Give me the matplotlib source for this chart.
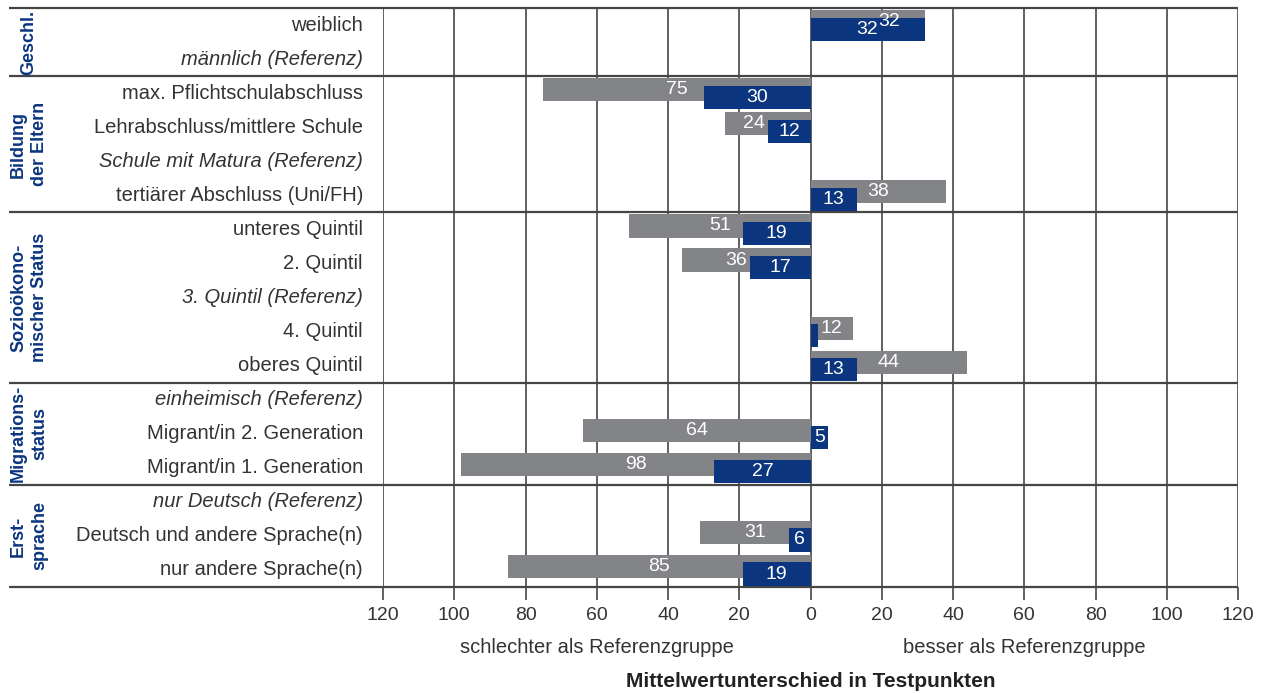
import matplotlib
matplotlib.use("Agg")
import matplotlib.pyplot as plt

plt.rcParams['font.family'] = ['Liberation Sans', 'DejaVu Sans']

# rows from top to bottom
rows = ["weiblich", "männlich (Referenz)",
        "max. Pflichtschulabschluss", "Lehrabschluss/mittlere Schule",
        "Schule mit Matura (Referenz)", "tertiärer Abschluss (Uni/FH)",
        "unteres Quintil", "2. Quintil", "3. Quintil (Referenz)", "4. Quintil",
        "oberes Quintil",
        "einheimisch (Referenz)", "Migrant/in 2. Generation",
        "Migrant/in 1. Generation",
        "nur Deutsch (Referenz)", "Deutsch und andere Sprache(n)",
        "nur andere Sprache(n)"]
reference = [False, True, False, False, True, False, False, False, True, False,
             False, True, False, False, True, False, False]
grey_vals = [32, None, -75, -24, None, 38, -51, -36, None, 12, 44,
             None, -64, -98, None, -31, -85]
blue_vals = [32, None, -30, -12, None, 13, -19, -17, None, 2, 13,
             None, 5, -27, None, -6, -19]

groups = ["Geschl.", "Bildung\nder Eltern", "Sozioökono-\nmischer Status",
          "Migrations-\nstatus", "Erst-\nsprache"]
group_sizes = [2, 4, 5, 3, 3]

xticks = list(range(-120, 121, 20))

GREY = "#838488"
BLUE = "#0b357e"
LINE = "#454545"
TEXT = "#333333"

fig = plt.figure(figsize=(12.7, 6.93), dpi=100)
ax = fig.add_axes([383 / 1270, 1 - 587 / 693, (1238 - 383) / 1270, (587 - 8) / 693])
ax.set_xlim(-120, 120)
ax.set_ylim(len(rows) - 0.5, -0.5)
for s in ax.spines.values():
    s.set_visible(False)

# vertical grid
for t in xticks:
    ax.axvline(t, color=LINE, lw=1.2, zorder=1)

# horizontal group separators, extending into label area
ytr = ax.get_yaxis_transform()
bounds = [-0.5]
for n in group_sizes:
    bounds.append(bounds[-1] + n)
for b in bounds:
    ax.plot([-0.437, 1.0], [b, b], color=LINE, lw=1.6, transform=ytr,
            clip_on=False, zorder=2, solid_capstyle='butt')

h = 0.68
half_w = 3.0  # approx half width of a two-digit label in data units
for i, (g, b) in enumerate(zip(grey_vals, blue_vals)):
    if g is None:
        continue
    yg = i - 0.1
    yb = i + 0.12
    ax.barh(yg, g, height=h, color=GREY, zorder=3)
    ax.barh(yb, b, height=h, color=BLUE, zorder=4)

    # blue label centred on the blue bar
    if abs(b) >= 4:
        ax.text(b / 2, yb, str(abs(b)), color="white", fontsize=14,
                ha="center", va="center", zorder=6)

    # grey label: centred, moved off the blue bar when they collide
    gc = g / 2
    same = (g > 0) == (b > 0)
    blen = abs(b) if same else 0
    sign = 1 if g > 0 else -1
    if abs(gc) - half_w > blen:
        gx = gc
    elif abs(g) - blen > 2 * half_w:
        gx = sign * (blen + 1 + half_w)
    else:
        gx = b / 2 + sign * 2 * half_w
    ax.text(gx, yg, str(abs(g)), color="white", fontsize=14,
            ha="center", va="center", zorder=5)

# row labels
for i, (lab, ref) in enumerate(zip(rows, reference)):
    ax.text(-0.0234, i, lab, transform=ytr, ha="right", va="center",
            fontsize=14.5, color=TEXT, style="italic" if ref else "normal")

# group labels
for k, (gname, n) in enumerate(zip(groups, group_sizes)):
    mid = (bounds[k] + bounds[k + 1]) / 2
    ax.text(-0.414, mid, gname, transform=ytr, rotation=90, ha="center",
            va="center", multialignment="center", fontsize=13,
            fontweight="bold", color=BLUE, linespacing=1.3)

ax.set_yticks([])
ax.set_xticks(xticks)
ax.set_xticklabels([str(abs(t)) for t in xticks], fontsize=14, color=TEXT)
ax.tick_params(axis="x", length=9.5, width=1.2, color=LINE, pad=5)

xtr = ax.get_xaxis_transform()
ax.text(-60, -0.105, "schlechter als Referenzgruppe", transform=xtr,
        ha="center", va="center", fontsize=14.5, color=TEXT)
ax.text(60, -0.105, "besser als Referenzgruppe", transform=xtr,
        ha="center", va="center", fontsize=14.5, color=TEXT)
ax.text(0, -0.164, "Mittelwertunterschied in Testpunkten", transform=xtr,
        ha="center", va="center", fontsize=15, fontweight="bold", color="#222222")

fig.savefig("out.png", dpi=100)
